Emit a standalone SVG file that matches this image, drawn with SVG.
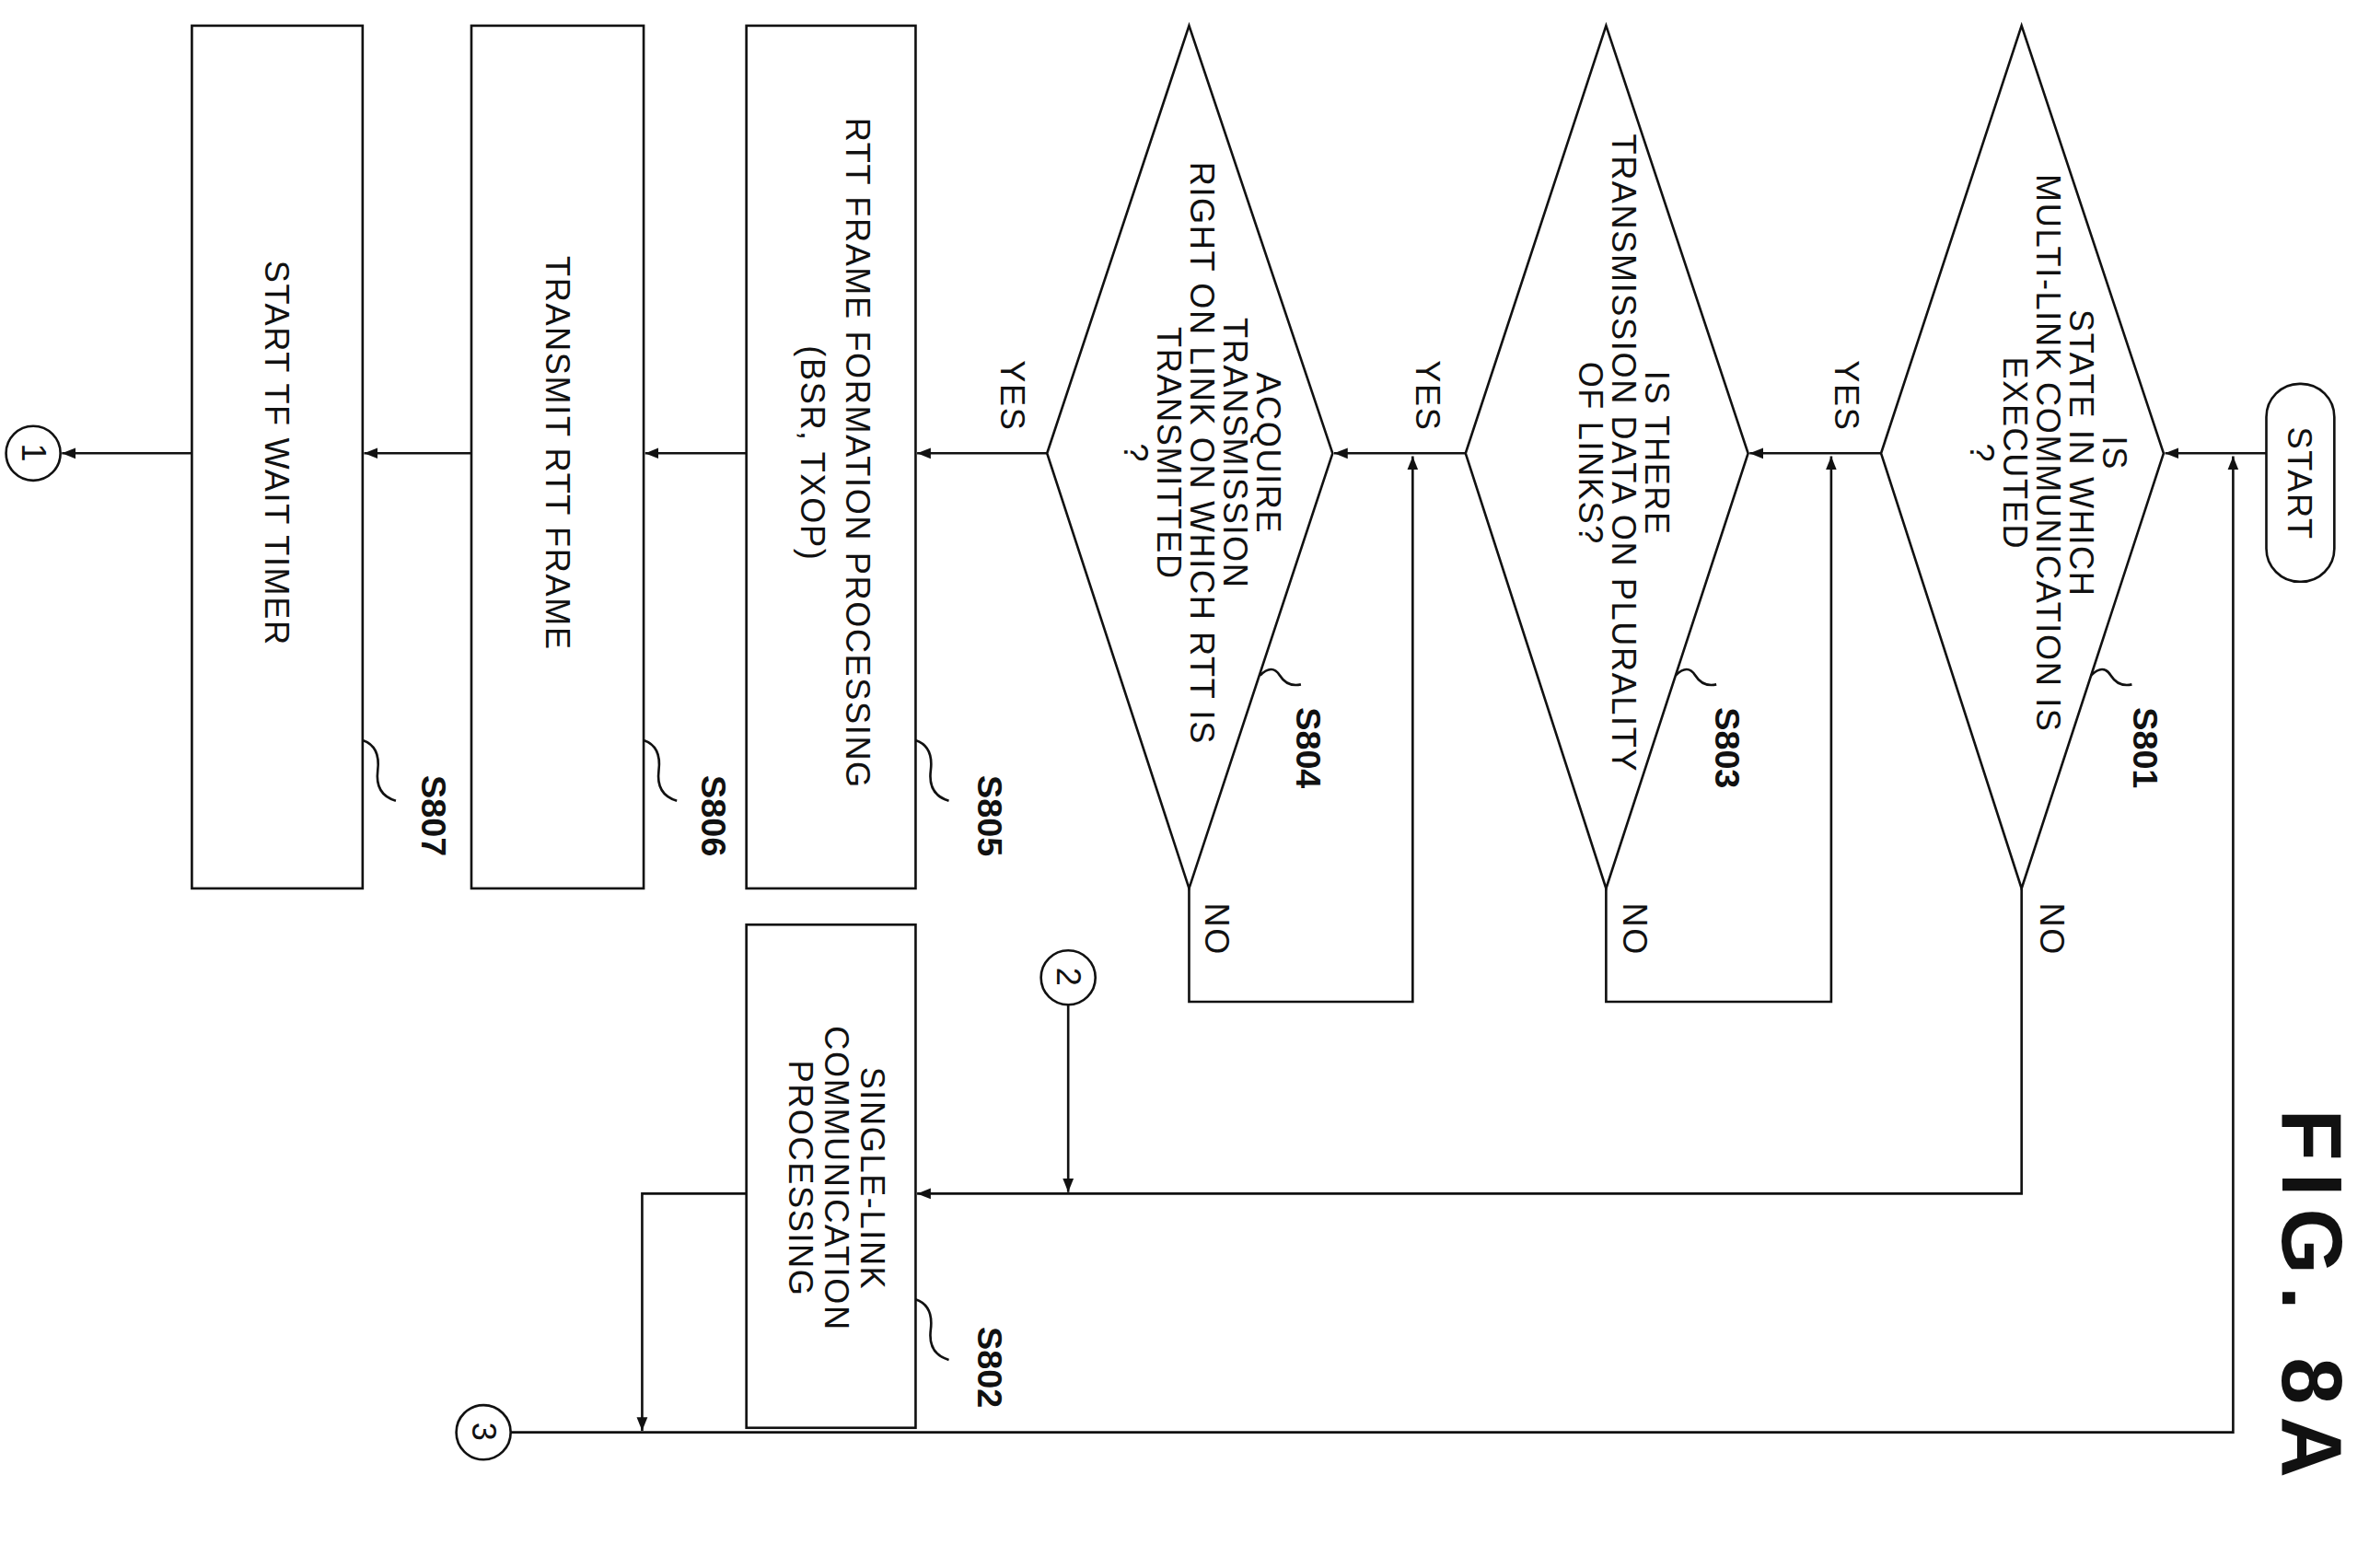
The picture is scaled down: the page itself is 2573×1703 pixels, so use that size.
<svg xmlns="http://www.w3.org/2000/svg" width="2573" height="1703" viewBox="0 0 2573 1703">
<style>
.s{fill:none;stroke:#111;stroke-width:1.6}
.t{font-family:"Liberation Sans",Arial,sans-serif;font-size:22px;letter-spacing:1px;fill:#111;text-anchor:middle;dominant-baseline:central}
.l{font-family:"Liberation Sans",Arial,sans-serif;font-size:23px;font-weight:bold;fill:#111;text-anchor:middle;dominant-baseline:central}
</style>
<defs><marker id="a" viewBox="0 0 10 10" refX="10" refY="5" markerWidth="9" markerHeight="9" markerUnits="userSpaceOnUse" orient="auto"><path d="M0,1 L10,5 L0,9 z" fill="#111"/></marker></defs>
<rect width="2573" height="1703" fill="#fff"/>
<g transform="scale(1.641)">
<g id="connectors" class="s" style="marker-end:url(#a)">
<path d="M1500,300H1433"/><path d="M1245,300H1158"/><path d="M970,300H883"/><path d="M693,300H607"/>
<path d="M494,300H427"/><path d="M312,300H241"/><path d="M127,300H41"/>
<path d="M787,588V663H935V302"/><path d="M1063,588V663H1212V302"/>
<path d="M1338,588V790H607"/><path d="M707,665V789"/>
<path d="M494,790H425V947"/><path d="M338,948H1478V302"/>
</g>
<g class="s">
<path d="M1384,447q8,-8 13,0t14,6"/><path d="M1109,447q8,-8 13,0t14,6"/><path d="M834,447q8,-8 13,0t14,6"/>
<path d="M606,490q12,4 10,20t12,20"/><path d="M426,490q12,4 10,20t12,20"/><path d="M240,490q12,4 10,20t12,20"/><path d="M606,860q12,4 10,20t12,20"/>
</g>
<g id="start"><rect class="s" x="1500" y="254" width="45" height="131" rx="22"/><text class="t" transform="translate(1522,320) rotate(90)">START</text></g>
<g id="S801"><path class="s" d="M1432,300L1338,17L1245,300L1338,588Z"/><text class="t" transform="translate(1400,300) rotate(90)"><tspan x="0" dy="0">IS</tspan><tspan x="0" dy="22">STATE IN WHICH</tspan><tspan x="0" dy="22">MULTI-LINK COMMUNICATION IS</tspan><tspan x="0" dy="22">EXECUTED</tspan><tspan x="0" dy="22">?</tspan></text><text class="l" transform="translate(1420,495) rotate(90)">S801</text><text class="t" transform="translate(1222,262) rotate(90)">YES</text><text class="t" transform="translate(1358,615) rotate(90)">NO</text></g>
<g id="S803"><path class="s" d="M1157,300L1063,17L970,300L1063,588Z"/><text class="t" transform="translate(1097,300) rotate(90)"><tspan x="0" dy="0">IS THERE</tspan><tspan x="0" dy="22">TRANSMISSION DATA ON PLURALITY</tspan><tspan x="0" dy="22">OF LINKS?</tspan></text><text class="l" transform="translate(1143,495) rotate(90)">S803</text><text class="t" transform="translate(945,262) rotate(90)">YES</text><text class="t" transform="translate(1082,615) rotate(90)">NO</text></g>
<g id="S804"><path class="s" d="M882,300L787,17L693,300L787,588Z"/><text class="t" transform="translate(840,300) rotate(90)"><tspan x="0" dy="0">ACQUIRE</tspan><tspan x="0" dy="22">TRANSMISSION</tspan><tspan x="0" dy="22">RIGHT ON LINK ON WHICH RTT IS</tspan><tspan x="0" dy="22">TRANSMITTED</tspan><tspan x="0" dy="22">?</tspan></text><text class="l" transform="translate(866,495) rotate(90)">S804</text><text class="t" transform="translate(670,262) rotate(90)">YES</text><text class="t" transform="translate(805,615) rotate(90)">NO</text></g>
<g id="S805"><rect class="s" x="494" y="17" width="112" height="571"/><text class="t" transform="translate(568,300) rotate(90)"><tspan x="0" dy="0">RTT FRAME FORMATION PROCESSING</tspan><tspan x="0" dy="30">(BSR, TXOP)</tspan></text><text class="l" transform="translate(655,540) rotate(90)">S805</text></g>
<g id="S806"><rect class="s" x="312" y="17" width="114" height="571"/><text class="t" transform="translate(369,300) rotate(90)">TRANSMIT RTT FRAME</text><text class="l" transform="translate(472,540) rotate(90)">S806</text></g>
<g id="S807"><rect class="s" x="127" y="17" width="113" height="571"/><text class="t" transform="translate(183,300) rotate(90)">START TF WAIT TIMER</text><text class="l" transform="translate(287,540) rotate(90)">S807</text></g>
<g id="S802"><rect class="s" x="494" y="612" width="112" height="333"/><text class="t" transform="translate(578,780) rotate(90)"><tspan x="0" dy="0">SINGLE-LINK</tspan><tspan x="0" dy="24">COMMUNICATION</tspan><tspan x="0" dy="24">PROCESSING</tspan></text><text class="l" transform="translate(655,905) rotate(90)">S802</text></g>
<g id="c1"><circle class="s" cx="22" cy="300" r="18"/><text class="t" transform="translate(22,300) rotate(90)">1</text></g>
<g id="c2"><circle class="s" cx="707" cy="647" r="18"/><text class="t" transform="translate(707,647) rotate(90)">2</text></g>
<g id="c3"><circle class="s" cx="320" cy="948" r="18"/><text class="t" transform="translate(320,948) rotate(90)">3</text></g>
<text class="l" style="font-size:56px;letter-spacing:8px" transform="translate(1530,860) rotate(90)">FIG. 8A</text>
</g>
</svg>
